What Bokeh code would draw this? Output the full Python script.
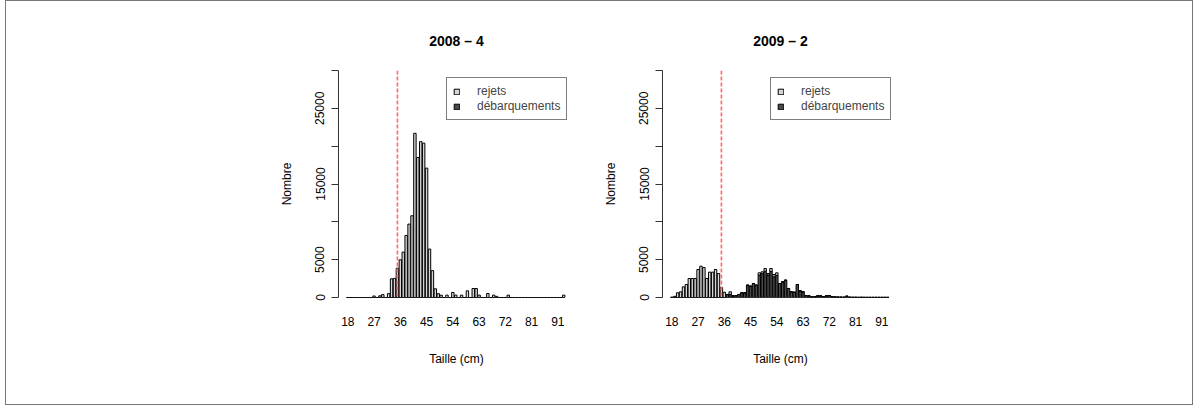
import numpy as np
from bokeh.plotting import figure
from bokeh.models import Range1d, FixedTicker, Span, Legend, LegendItem, Title
from bokeh.layouts import row
from bokeh.embed import file_html
from bokeh.resources import INLINE

FONT = "Liberation Sans"

# ---------------- data ----------------
tailles = list(range(18, 89)) + [90, 91, 92, 93]
taille_min = 35
panel_titles = ["2008 \u2013 4", "2009 \u2013 2"]
series_names = ["rejets", "d\u00e9barquements"]
y_ticks = [0, 5000, 10000, 15000, 20000, 25000, 30000]
y_tick_labels = ["0", "5000", "", "15000", "", "25000", ""]
x_tick_step = 9

rejets_2008_4 = [
    0, 0, 0, 0, 0, 0, 0, 0, 0, 200,
    0, 220, 380, 0, 520, 2470, 2530, 3870, 4980, 6000,
    8200, 9700, 10800, 21700, 18500, 20600, 20400, 17100, 6400, 3550,
    1150, 500, 300, 0, 310, 0, 660, 310, 0, 310,
    0, 880, 0, 1190, 1190, 310, 0, 0, 530, 0,
    310, 150, 0, 0, 0, 310, 0, 0, 0, 0,
    0, 0, 0, 0, 0, 0, 0, 0, 0, 0,
    0, 0, 0, 0, 310,
]
debarquements_2008_4 = [
    0, 0, 0, 0, 0, 0, 0, 0, 0, 0,
    0, 0, 0, 0, 0, 0, 0, 0, 0, 0,
    0, 0, 0, 0, 0, 0, 0, 0, 0, 0,
    0, 0, 0, 0, 0, 0, 0, 0, 0, 0,
    0, 0, 0, 0, 0, 0, 0, 0, 0, 0,
    0, 0, 0, 0, 0, 0, 0, 0, 0, 0,
    0, 0, 0, 0, 0, 0, 0, 0, 0, 0,
    0, 0, 0, 0, 0,
]
rejets_2009_2 = [
    50, 150, 620, 750, 1410, 1720, 2510, 2510, 2510, 3700,
    4140, 3960, 2510, 3350, 3350, 3700, 3170, 1320, 700, 0,
    350, 0, 0, 0, 0, 0, 0, 0, 0, 0,
    300, 250, 350, 200, 400, 300, 350, 0, 0, 0,
    0, 0, 0, 0, 0, 0, 0, 0, 0, 0,
    0, 0, 0, 0, 0, 0, 0, 0, 0, 0,
    0, 0, 0, 0, 0, 0, 0, 0, 0, 0,
    0, 0, 0, 0, 0,
]
debarquements_2009_2 = [
    0, 0, 0, 0, 0, 0, 0, 0, 0, 0,
    0, 0, 0, 0, 0, 0, 0, 0, 0, 400,
    400, 220, 260, 400, 620, 620, 1630, 1500, 1850, 1630,
    2960, 3140, 3480, 2970, 3430, 2740, 2910, 1850, 2070, 2290,
    1190, 750, 700, 1720, 880, 750, 260, 220, 80, 100,
    220, 220, 100, 220, 260, 100, 80, 60, 50, 40,
    175, 40, 30, 30, 20, 30, 20, 20, 20, 20,
    20, 20, 20, 20, 20,
]

# ---------------- styling ----------------
COL_REJ = "#d6d6d6"
COL_DEB = "#4a4a4a"
FRAME_W = 236
FRAME_H = 227
TOP = 69
BOTTOM = 107
BAR_W = 0.83


def make_panel(title, rej, deb, left, right):
    n = len(tailles)
    idx = np.arange(n)
    rej = np.array(rej, dtype=float)
    deb = np.array(deb, dtype=float)
    p = figure(width=left + FRAME_W + right, height=TOP + FRAME_H + BOTTOM,
               x_range=Range1d(-3.19, 77.7), y_range=Range1d(0, 30000),
               output_backend="svg", toolbar_location=None,
               min_border_left=left, min_border_right=right,
               min_border_top=TOP, min_border_bottom=BOTTOM)
    p.outline_line_color = None
    p.grid.visible = False
    p.background_fill_color = "white"
    p.border_fill_color = "white"

    r_deb = p.vbar(x=idx, width=BAR_W, bottom=0, top=deb,
                   fill_color=COL_DEB, line_color="black", line_width=1)
    r_rej = p.vbar(x=idx, width=BAR_W, bottom=deb, top=deb + rej,
                   fill_color=COL_REJ, line_color="black", line_width=1)
    p.segment(x0=[idx[0] - BAR_W / 2], x1=[idx[-1] + BAR_W / 2], y0=[0], y1=[0],
              line_color="black", line_width=1)

    p.add_layout(Span(location=tailles.index(taille_min), dimension="height",
                      line_color="#ff6f6f", line_width=1.7, line_dash="4 2"))

    # title (with a small blank spacer title between it and the frame)
    p.title.text = title
    p.title.align = "center"
    p.title.text_font = FONT
    p.title.text_font_size = "14px"
    p.title.text_font_style = "bold"
    p.title.text_color = "black"
    p.add_layout(Title(text=" ", text_font_size="4px"), "above")

    # x axis
    xa = p.xaxis[0]
    ticks = list(range(0, n, x_tick_step))
    xa.ticker = FixedTicker(ticks=ticks)
    xa.major_label_overrides = {i: str(tailles[i]) for i in ticks}
    xa.axis_line_color = None
    xa.major_tick_line_color = None
    xa.minor_tick_line_color = None
    xa.major_label_standoff = 13
    xa.major_label_text_font = FONT
    xa.major_label_text_font_size = "12px"
    xa.major_label_text_color = "black"
    xa.axis_label = "Taille (cm)"
    xa.axis_label_text_font = FONT
    xa.axis_label_text_font_size = "12px"
    xa.axis_label_text_font_style = "normal"
    xa.axis_label_text_color = "black"
    xa.axis_label_standoff = 23

    # y axis
    ya = p.yaxis[0]
    ya.ticker = FixedTicker(ticks=y_ticks)
    ya.major_label_overrides = {t: l for t, l in zip(y_ticks, y_tick_labels)}
    ya.axis_line_color = "#333333"
    ya.major_tick_line_color = "#333333"
    ya.minor_tick_line_color = None
    ya.major_tick_in = 0
    ya.major_tick_out = 7
    ya.major_label_orientation = "vertical"
    ya.major_label_standoff = 7
    ya.major_label_text_font = FONT
    ya.major_label_text_font_size = "12px"
    ya.major_label_text_color = "black"
    ya.axis_label = "Nombre"
    ya.axis_label_text_font = FONT
    ya.axis_label_text_font_size = "12px"
    ya.axis_label_text_font_style = "normal"
    ya.axis_label_text_color = "black"
    ya.axis_label_standoff = 19

    legend = Legend(items=[LegendItem(label=series_names[0], renderers=[r_rej]),
                           LegendItem(label=series_names[1], renderers=[r_deb])],
                    location=(108, 177))
    legend.border_line_color = "black"
    legend.border_line_width = 1
    legend.background_fill_color = "white"
    legend.background_fill_alpha = 1
    legend.label_text_font = FONT
    legend.label_text_font_size = "12px"
    legend.glyph_width = 7
    legend.glyph_height = 7
    legend.label_height = 14
    legend.spacing = 1
    legend.padding = 6
    legend.margin = 0
    legend.label_standoff = 17
    p.add_layout(legend, "center")
    return p


p1 = make_panel(panel_titles[0], rejets_2008_4, debarquements_2008_4, 332, 10)
p2 = make_panel(panel_titles[1], rejets_2009_2, debarquements_2009_2, 78, 294)

layout = row(p1, p2, margin=(0, 0, 0, 5), styles={"border": "1px solid #777777"})

open("out.html", "w").write(file_html(layout, INLINE))
